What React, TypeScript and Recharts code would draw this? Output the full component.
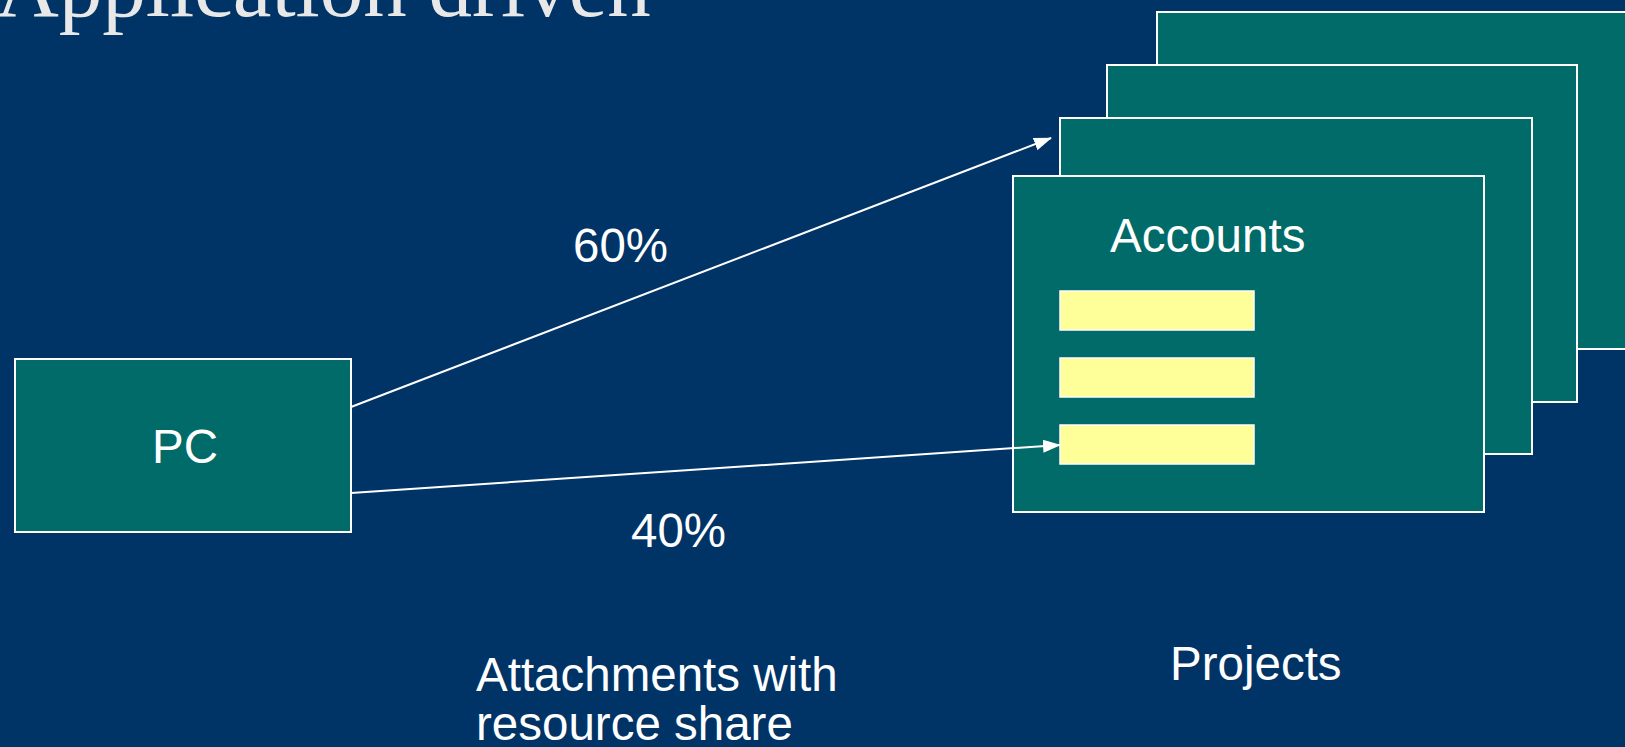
import {
  ComposedChart,
  ReferenceArea,
  ReferenceLine,
  Scatter,
  XAxis,
  YAxis,
} from "recharts";

const W = 1625;
const H = 747;

const BG = "#003366";
const TEAL = "#006b68";
const YELLOW = "#ffff99";
const EDGE = "#ffffff";

// project cards, back to front: [x1, x2, y1, y2]
const cardX1 = [1157, 1107, 1060, 1013];
const cardX2 = [1628, 1577, 1532, 1484];
const cardY1 = [12, 65, 118, 176];
const cardY2 = [349, 402, 454, 512];

// account rows on the front card
const rowX1 = [1060, 1060, 1060];
const rowX2 = [1254, 1254, 1254];
const rowY1 = [291, 358, 425];
const rowY2 = [330, 397, 464];

// the PC box
const pcBox = { x1: 15, x2: 351, y1: 359, y2: 532 };

// attachments: from PC to project
const arrowFrom = [
  { x: 351, y: 407 },
  { x: 351, y: 493 },
];
const arrowTo = [
  { x: 1051, y: 138 },
  { x: 1060, y: 445 },
];

const labelText = ["60%", "40%", "PC", "Accounts", "Projects", "Attachments with\nresource share"];
const labelX = [573, 631, 152, 1110, 1170, 476];
const labelY = [262, 547, 463, 252, 680, 691];

const titleText = ["Application driven"];
const titleX = [-4];
const titleY = [16];

const labels = labelText.map((t, i) => ({ x: labelX[i], y: labelY[i], t }));
const titles = titleText.map((t, i) => ({ x: titleX[i], y: titleY[i], t }));

function LabelShape(props: any) {
  const { cx, cy, payload } = props;
  const lines = String(payload.t).split("\n");
  return (
    <text
      x={cx}
      y={cy}
      fill="#ffffff"
      fontFamily="'Liberation Sans', Arial, sans-serif"
      fontSize={47.5}
      textAnchor="start"
    >
      {lines.map((ln, i) => (
        <tspan key={i} x={cx} dy={i === 0 ? 0 : 49}>
          {ln}
        </tspan>
      ))}
    </text>
  );
}

function TitleShape(props: any) {
  const { cx, cy, payload } = props;
  return (
    <text
      x={cx}
      y={cy}
      fill="#e8e8e8"
      fontFamily="'Liberation Serif', 'Times New Roman', serif"
      fontSize={87}
      textAnchor="start"
    >
      {payload.t}
    </text>
  );
}

function ArrowLine(props: any) {
  const { x1, y1, x2, y2 } = props;
  return (
    <line
      x1={x1}
      y1={y1}
      x2={x2}
      y2={y2}
      stroke={EDGE}
      strokeWidth={2}
      markerEnd="url(#arrowHead)"
    />
  );
}

export default function App() {
  return (
    <div style={{ position: "absolute", left: 0, top: 0, width: W, height: H, background: BG }}>
      <ComposedChart
        width={W}
        height={H}
        margin={{ top: 0, right: 0, bottom: 0, left: 0 }}
        style={{ background: BG }}
      >
        <defs>
          <marker
            id="arrowHead"
            markerUnits="userSpaceOnUse"
            markerWidth={18}
            markerHeight={13}
            refX={17}
            refY={6.5}
            orient="auto"
          >
            <path d="M0,0 L18,6.5 L0,13 z" fill={EDGE} />
          </marker>
        </defs>
        <XAxis type="number" dataKey="x" domain={[0, W]} hide allowDataOverflow />
        <YAxis type="number" dataKey="y" domain={[0, H]} reversed hide allowDataOverflow />

        {cardX1.map((x1, i) => (
          <ReferenceArea
            key={`card-${i}`}
            x1={x1}
            x2={cardX2[i]}
            y1={cardY1[i]}
            y2={cardY2[i]}
            fill={TEAL}
            fillOpacity={1}
            stroke={EDGE}
            strokeWidth={2}
            ifOverflow="visible"
          />
        ))}
        {rowX1.map((x1, i) => (
          <ReferenceArea
            key={`row-${i}`}
            x1={x1}
            x2={rowX2[i]}
            y1={rowY1[i]}
            y2={rowY2[i]}
            fill={YELLOW}
            fillOpacity={1}
            stroke={EDGE}
            strokeWidth={1.5}
            ifOverflow="visible"
          />
        ))}
        <ReferenceArea
          x1={pcBox.x1}
          x2={pcBox.x2}
          y1={pcBox.y1}
          y2={pcBox.y2}
          fill={TEAL}
          fillOpacity={1}
          stroke={EDGE}
          strokeWidth={2}
          ifOverflow="visible"
        />

        {arrowFrom.map((p, i) => (
          <ReferenceLine
            key={`arrow-${i}`}
            segment={[p, arrowTo[i]]}
            shape={ArrowLine}
            ifOverflow="visible"
          />
        ))}

        <Scatter data={labels} shape={LabelShape} isAnimationActive={false} />
        <Scatter data={titles} shape={TitleShape} isAnimationActive={false} />
      </ComposedChart>
    </div>
  );
}
